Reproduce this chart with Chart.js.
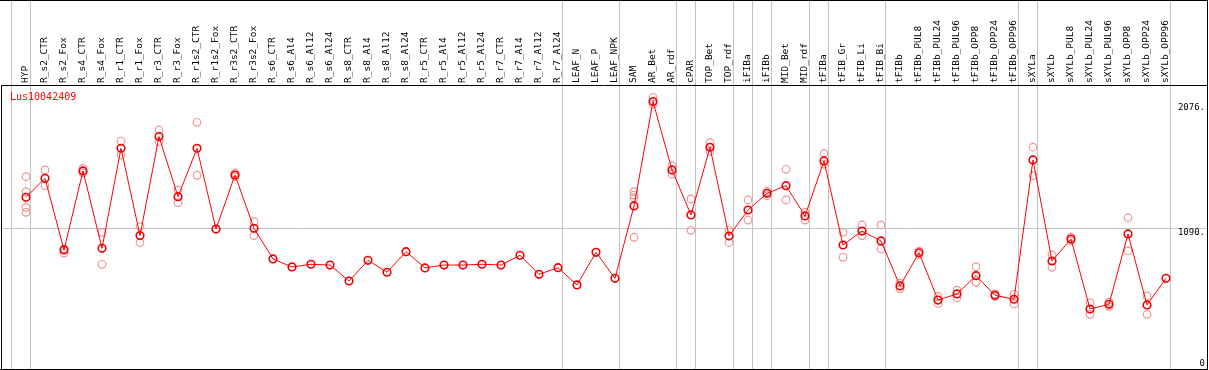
<!DOCTYPE html>
<html><head><meta charset="utf-8">
<script src="https://cdn.jsdelivr.net/npm/chart.js@4.4.0/dist/chart.umd.min.js"></script>
<style>
html,body{margin:0;padding:0;background:#fff;}
#wrap{position:relative;width:1209px;height:370px;}
#title{position:absolute;left:10px;top:92px;font-family:"DejaVu Sans Mono",monospace;font-size:10px;line-height:10px;color:#ff0000;white-space:nowrap;}
canvas{display:block;}
</style></head><body>
<div id="wrap"><canvas id="c" width="1209" height="370"></canvas><div id="title"></div></div>
<script>
const geneName = 'Lus10042409';

const categories = ['HYP','R_s2_CTR','R_s2_Fox','R_s4_CTR','R_s4_Fox','R_r1_CTR','R_r1_Fox','R_r3_CTR','R_r3_Fox',
  'R_r1s2_CTR','R_r1s2_Fox','R_r3s2_CTR','R_r3s2_Fox','R_s6_CTR','R_s6_Al4','R_s6_Al12','R_s6_Al24',
  'R_s8_CTR','R_s8_Al4','R_s8_Al12','R_s8_Al24','R_r5_CTR','R_r5_Al4','R_r5_Al12','R_r5_Al24',
  'R_r7_CTR','R_r7_Al4','R_r7_Al12','R_r7_Al24','LEAF_N','LEAF_P','LEAF_NPK','SAM','AR_Bet','AR_rdf',
  'cPAR','TOP_Bet','TOP_rdf','iFIBa','iFIBb','MID_Bet','MID_rdf','tFIBa','tFIB_Gr','tFIB_Li','tFIB_Bi',
  'tFIBb','tFIBb_PUL8','tFIBb_PUL24','tFIBb_PUL96','tFIBb_OPP8','tFIBb_OPP24','tFIBb_OPP96',
  'sXYLa','sXYLb','sXYLb_PUL8','sXYLb_PUL24','sXYLb_PUL96','sXYLb_OPP8','sXYLb_OPP24','sXYLb_OPP96'];

const meanValues = [1332,1482,917,1540,930,1719,1030,1811,1337,
  1719,1082,1508,1088,846,783,804,798,
  672,835,741,903,775,798,798,804,
  798,875,725,777,641,898,693,1264,2087,1548,
  1193,1727,1027,1232,1364,1424,1185,1619,956,1066,988,
  633,895,522,570,714,559,528,
  1627,830,1003,451,488,1043,483,693];

const replicateValues = [[1495,1377,1253,1214],[1548,1424],[926,892],[1560,1525],[1056,804],[1776,1666],[1100,974],[1863,1771],[1390,1290],
  [1924,1506],[],[1523,1495],[1140,1030],[],[],[],[],
  [],[],[],[],[],[],[],[],
  [],[],[],[],[],[],[],[1377,1350,1329,1017],[2121,2066],[1582,1516],
  [1319,1072],[1763,1695],[1074,974],[1311,1153],[1378,1345],[1553,1311],[1215,1153],[1679,1593],[1056,859],[1114,1030],[1114,925],
  [655,610],[908,880],[550,495],[600,540],[785,662],[570,550],[567,491],
  [1727,1503],[877,780],[1018,990],[501,409],[505,470],[1171,909],[554,409],[]];

const yTickValues = [0, 1090, 2076];
// a separator is drawn before the first column and after each of these columns
const separatorAfter = ['HYP','R_r7_Al24','LEAF_NPK','AR_rdf','cPAR','TOP_rdf','iFIBa','iFIBb','MID_rdf','tFIBa','tFIB_Bi','tFIBb_OPP96','sXYLa','sXYLb_OPP96'];

document.getElementById('title').textContent = geneName;

const SEP_SHIFT = 0.226;           // separator offset from column centre (in column units)
const sepIndex = new Set([-1].concat(separatorAfter.map(n => categories.indexOf(n))));
const X_MIN = -25/19, X_MAX = (categories.length - 1) + 41/19;
const Y_MIN = -22, Y_MAX = 2218;

const meanPoints = meanValues.map((v, i) => ({x: i, y: v}));
const repPoints = [];
replicateValues.forEach((arr, i) => arr.forEach(v => repPoints.push({x: i, y: v})));

const MONO = '"DejaVu Sans Mono", monospace';
const SEP_COLOR = '#c4c4c4';
const NONE = 'rgba(0,0,0,0)';

function noPad(scale) {
  scale.paddingLeft = 0; scale.paddingRight = 0; scale.paddingTop = 0; scale.paddingBottom = 0;
}

const framePlugin = {
  id: 'frame',
  afterDraw(chart) {
    const ctx = chart.ctx, a = chart.chartArea;
    ctx.save();
    ctx.strokeStyle = '#000';
    ctx.lineWidth = 1;
    ctx.beginPath();
    ctx.moveTo(0, 0.5); ctx.lineTo(a.right + 1, 0.5);
    ctx.moveTo(a.right + 0.5, 0); ctx.lineTo(a.right + 0.5, chart.height);
    ctx.moveTo(a.left + 0.5, a.top); ctx.lineTo(a.left + 0.5, a.bottom + 1);
    ctx.moveTo(0, a.bottom + 0.5); ctx.lineTo(a.right + 1, a.bottom + 0.5);
    ctx.stroke();
    ctx.restore();
  }
};

new Chart(document.getElementById('c'), {
  type: 'scatter',
  data: {
    datasets: [
      {
        label: geneName,
        data: meanPoints,
        showLine: true,
        borderColor: '#ff0000',
        borderWidth: 1,
        pointRadius: 3.8,
        pointBorderWidth: 1.6,
        pointBorderColor: '#f00000',
        pointBackgroundColor: NONE,
        tension: 0
      },
      {
        label: 'replicates',
        data: repPoints,
        showLine: false,
        pointRadius: 3.8,
        pointBorderWidth: 1.2,
        pointBorderColor: '#f09494',
        pointBackgroundColor: NONE
      }
    ]
  },
  options: {
    responsive: false,
    animation: false,
    devicePixelRatio: 1,
    events: [],
    layout: {autoPadding: false, padding: {left: 1, right: 2, top: 0, bottom: 1}},
    plugins: {legend: {display: false}, tooltip: {enabled: false}, title: {display: false}},
    scales: {
      x: {
        type: 'linear',
        position: 'top',
        min: X_MIN, max: X_MAX,
        afterBuildTicks(scale) {
          const t = [];
          for (let i = -1; i < categories.length; i++) t.push({value: i + SEP_SHIFT});
          scale.ticks = t;
        },
        afterFit(scale) { scale.height = 85; noPad(scale); },
        ticks: {
          autoSkip: false,
          minRotation: 90, maxRotation: 90,
          padding: -83,
          labelOffset: 7,
          color: '#000',
          font: {family: MONO, size: 9.5},
          callback(value) { return categories[Math.round(value - SEP_SHIFT)] || ''; }
        },
        grid: {
          drawOnChartArea: true,
          drawTicks: true,
          tickLength: 85,
          lineWidth: 1,
          color: ctx => (ctx.tick && sepIndex.has(Math.round(ctx.tick.value - SEP_SHIFT))) ? SEP_COLOR : NONE,
          tickColor: ctx => (ctx.tick && sepIndex.has(Math.round(ctx.tick.value - SEP_SHIFT))) ? SEP_COLOR : NONE
        },
        border: {display: true, color: '#000', width: 1}
      },
      y: {
        type: 'linear',
        position: 'right',
        min: Y_MIN, max: Y_MAX,
        afterBuildTicks(scale) { scale.ticks = yTickValues.filter(v => v !== 0).map(v => ({value: v})); },
        afterFit(scale) { scale.width = 0; noPad(scale); },
        ticks: {
          mirror: true,
          padding: -2,
          labelOffset: 5,
          color: '#000',
          font: {family: MONO, size: 9},
          callback(value) { return value + '.'; }
        },
        grid: {
          drawTicks: false,
          lineWidth: 1,
          color: ctx => (ctx.tick && ctx.tick.value === 1090) ? SEP_COLOR : NONE
        },
        border: {display: false}
      },
      y0: {
        type: 'linear',
        position: 'right',
        min: Y_MIN, max: Y_MAX,
        afterBuildTicks(scale) { scale.ticks = yTickValues.filter(v => v === 0).map(v => ({value: v})); },
        afterFit(scale) { scale.width = 0; noPad(scale); },
        ticks: {
          mirror: true,
          padding: -2,
          labelOffset: -3,
          color: '#000',
          font: {family: MONO, size: 9},
          callback(value) { return String(value); }
        },
        grid: {display: false, drawTicks: false},
        border: {display: false}
      }
    }
  },
  plugins: [framePlugin]
});
</script>
</body></html>
